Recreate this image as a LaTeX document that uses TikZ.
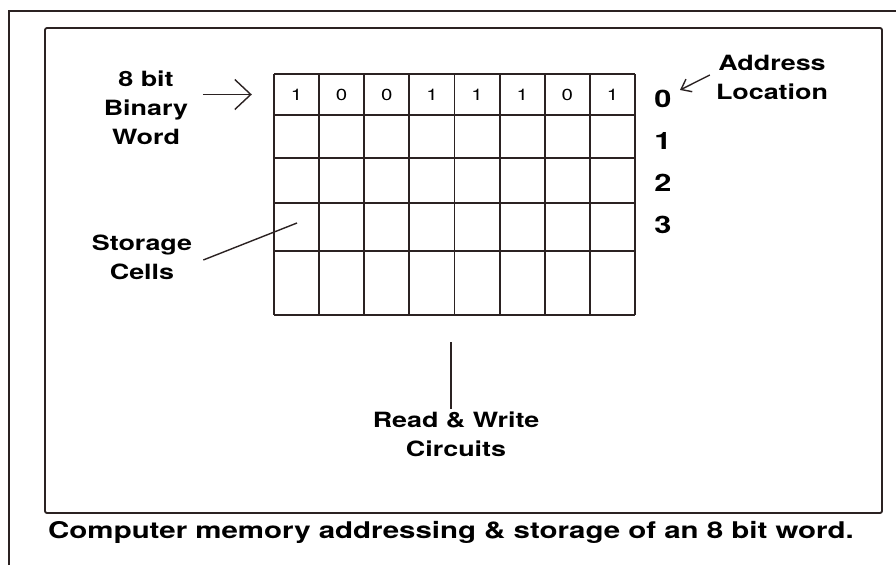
\documentclass[tikz,border=0pt]{standalone}
\usepackage{fontspec}
\setmainfont{TeX Gyre Heros}[FakeStretch=1.28]
\usepackage{xcolor}
\usetikzlibrary{arrows.meta,positioning,calc}

\definecolor{ink}{HTML}{2B2222}

\tikzset{
	desc/.style={font=\bfseries\fontsize{21}{29}\selectfont, align=center, text=black, inner sep=2pt},
	row num/.style={font=\bfseries\fontsize{24}{24}\selectfont, inner sep=0pt},
	bit cell/.style={minimum width=45.125pt, minimum height=41pt, inner sep=0pt, font=\fontsize{16}{16}\selectfont},
	rule/.style={draw=ink, line width=1.8pt},
	leader/.style={draw=ink, line width=1.4pt},
	big barb/.style={leader, -{Straight Barb[length=16pt,width=30pt]}},
	small barb/.style={leader, -{Straight Barb[length=9pt,width=14pt]}}
}

\begin{document}
\begin{tikzpicture}[x=1pt,y=-1pt]
		\useasboundingbox (0,0) rectangle (896,565);
		\fill[white] (0,0) rectangle (896,565);

		\draw[rule] (9,565) -- (9,11) -- (896,11);
		\draw[rule, rounded corners=2pt] (45,28) rectangle (882,513);

		% memory grid
		\foreach \y in {74,115,158,203,251,315}
			\draw[rule] (274,\y) -- (635,\y);
		\foreach \i in {0,...,8}
			\draw[rule] ({274+45.125*\i},74) -- ({274+45.125*\i},315);

		\foreach \b [count=\i] in {1,0,0,1,1,1,0,1}
			\node[bit cell] (bit\i) at ({274+45.125*(\i-0.5)},94.5) {\b};

		\foreach \r/\y in {0/99,1/141,2/183,3/225}
			\node[row num] (row\r) at (663,\y) {\r};

		\node[desc] (word) at (146,108) {8 bit\\Binary\\Word};
		\node[desc] (addr) at (772,77) {Address\\Location};
		\node[desc] (store) at (142,257) {Storage\\Cells};
		\node[desc] (rw) at (456,434) {Read \& Write\\Circuits};
		\node[desc, font=\bfseries\fontsize{23}{23}\selectfont] (cap) at (451,532) {Computer memory addressing \& storage of an 8 bit word.};

		\coordinate (cellpt) at (297,223);
		\coordinate (rwtop) at (451,342);

		\draw[big barb] ([xshift=-71pt]bit1.west) -- ([xshift=-22pt]bit1.west);
		\draw[small barb] ([xshift=-4pt,yshift=2pt]addr.west) -- ([xshift=17pt,yshift=9pt]row0.center);
		\draw[leader] ([xshift=9pt,yshift=-3pt]store.east) -- (cellpt);
		\draw[leader] (rwtop) -- (rwtop |- rw.north);
	\end{tikzpicture}
\end{document}
